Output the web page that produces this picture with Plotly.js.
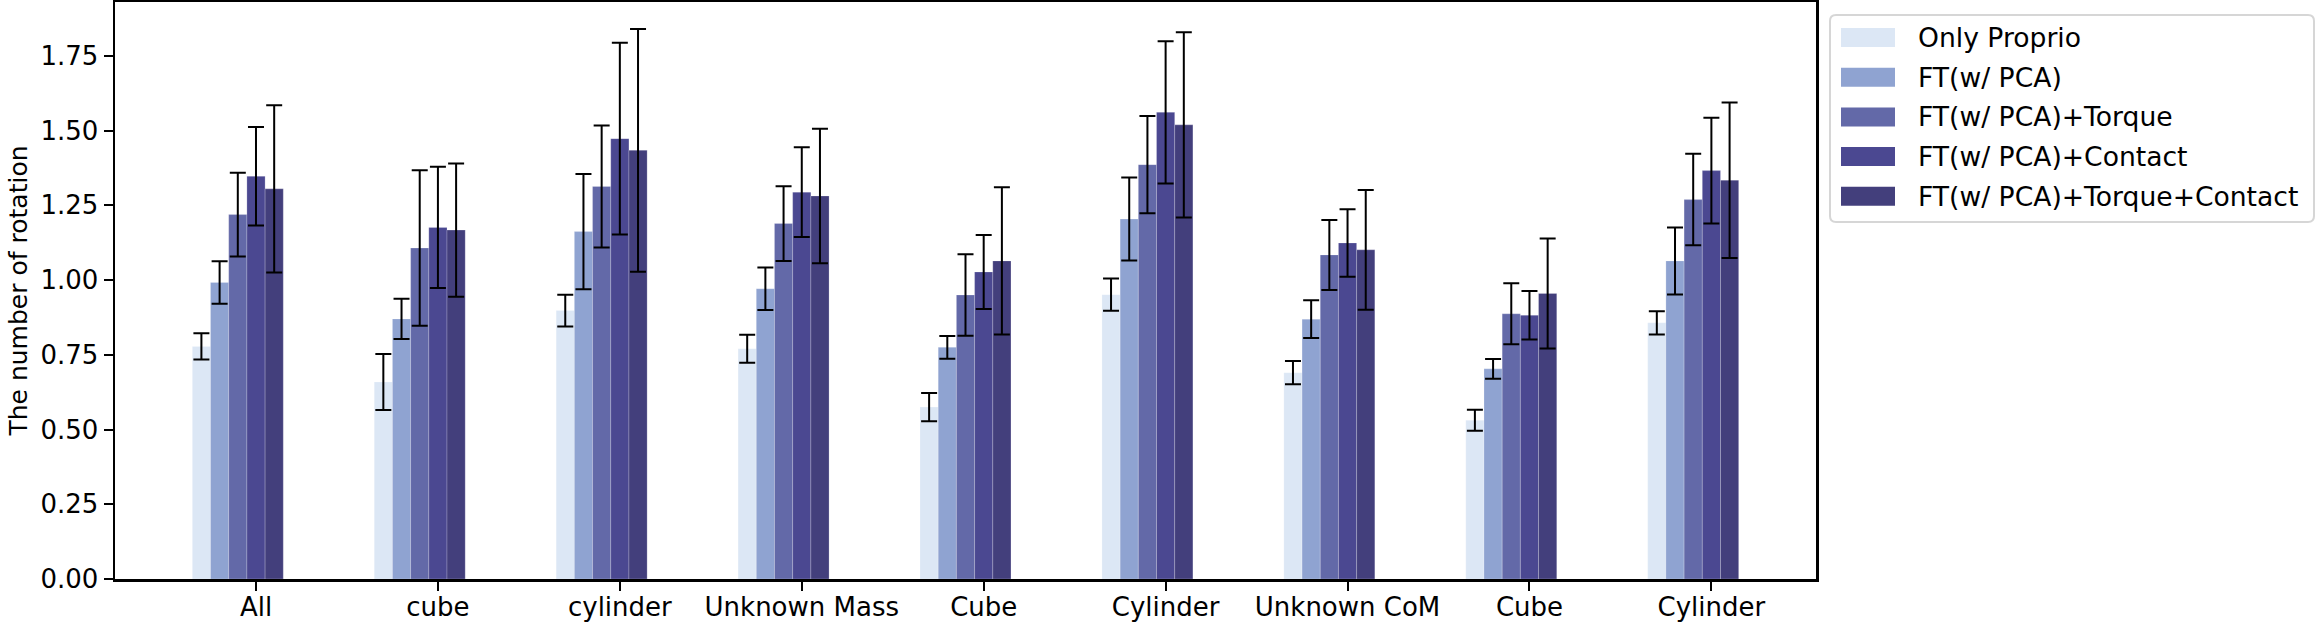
<!DOCTYPE html>
<html>
<head>
<meta charset="utf-8">
<script src="https://cdn.plot.ly/plotly-3.0.1.min.js"></script>
<style>
  html, body { margin: 0; padding: 0; background: #fff; }
  #chart { width: 2317px; height: 625px; }
</style>
</head>
<body>
<div id="chart"></div>
<script>
const categories = ["All", "cube", "cylinder", "Unknown Mass", "Cube", "Cylinder", "Unknown CoM", "Cube", "Cylinder"];
const seriesNames = ["Only Proprio", "FT(w/ PCA)", "FT(w/ PCA)+Torque", "FT(w/ PCA)+Contact", "FT(w/ PCA)+Torque+Contact"];
const seriesColors = ["#dce7f5", "#8fa3d1", "#6369a8", "#4b4891", "#433f7c"];

// mean number of rotations per series
const onlyProprio   = [0.778, 0.659, 0.898, 0.770, 0.575, 0.951, 0.690, 0.531, 0.857];
const ftPca         = [0.992, 0.870, 1.162, 0.971, 0.775, 1.204, 0.869, 0.703, 1.064];
const ftTorque      = [1.219, 1.107, 1.313, 1.189, 0.950, 1.386, 1.084, 0.887, 1.269];
const ftContact     = [1.347, 1.176, 1.473, 1.294, 1.027, 1.561, 1.124, 0.882, 1.366];
const ftTorqueCont  = [1.305, 1.167, 1.434, 1.281, 1.064, 1.519, 1.101, 0.955, 1.334];

// error (half length)
const onlyProprioErr  = [0.044, 0.094, 0.053, 0.047, 0.047, 0.054, 0.039, 0.035, 0.039];
const ftPcaErr        = [0.071, 0.067, 0.193, 0.071, 0.038, 0.139, 0.063, 0.033, 0.112];
const ftTorqueErr     = [0.140, 0.260, 0.204, 0.125, 0.136, 0.163, 0.117, 0.102, 0.153];
const ftContactErr    = [0.165, 0.203, 0.321, 0.150, 0.124, 0.238, 0.113, 0.081, 0.177];
const ftTorqueContErr = [0.280, 0.223, 0.406, 0.225, 0.246, 0.310, 0.200, 0.184, 0.260];

const means = [onlyProprio, ftPca, ftTorque, ftContact, ftTorqueCont];
const errs = [onlyProprioErr, ftPcaErr, ftTorqueErr, ftContactErr, ftTorqueContErr];

const barWidth = 0.1;
const idx = categories.map((c, i) => i);

const traces = seriesNames.map((name, k) => ({
  type: "bar",
  name: name,
  x: idx.map(i => i + (k - 3) * barWidth),
  y: means[k],
  width: barWidth,
  marker: { color: seriesColors[k], line: { width: 0.6, color: "rgba(255,255,255,0.35)" } },
  error_y: { type: "data", array: errs[k], visible: true, color: "#000", thickness: 2, width: 8 },
  showlegend: false,
  hoverinfo: "name+y"
}));

// plot frame in pixels
const W = 2317, Hh = 625;
const L = 115, R = 1816, T = 2, B = 579;
const px = x => (x - L) / (R - L);
const py = y => (B - y) / (B - T);

// legend drawn by hand so the swatches look like matplotlib's
const shapes = [];
const annotations = [];
const lx0 = 1830, lx1 = 2314, ly0 = 15, ly1 = 222, rad = 6;
shapes.push({
  type: "path", xref: "paper", yref: "paper",
  path: `M ${px(lx0 + rad)},${py(ly0)} L ${px(lx1 - rad)},${py(ly0)} Q ${px(lx1)},${py(ly0)} ${px(lx1)},${py(ly0 + rad)}` +
        ` L ${px(lx1)},${py(ly1 - rad)} Q ${px(lx1)},${py(ly1)} ${px(lx1 - rad)},${py(ly1)}` +
        ` L ${px(lx0 + rad)},${py(ly1)} Q ${px(lx0)},${py(ly1)} ${px(lx0)},${py(ly1 - rad)}` +
        ` L ${px(lx0)},${py(ly0 + rad)} Q ${px(lx0)},${py(ly0)} ${px(lx0 + rad)},${py(ly0)} Z`,
  line: { color: "#d6d6d6", width: 2 },
  fillcolor: "rgba(255,255,255,0.8)"
});
seriesNames.forEach((name, k) => {
  const cy = 37.5 + k * 39.7;
  shapes.push({
    type: "rect", xref: "paper", yref: "paper",
    x0: px(1841), x1: px(1895), y0: py(cy - 9.5), y1: py(cy + 9.5),
    line: { width: 0 }, fillcolor: seriesColors[k]
  });
  annotations.push({
    xref: "paper", yref: "paper", x: px(1916), y: py(cy),
    xanchor: "left", yanchor: "middle", showarrow: false,
    text: name, font: { family: "DejaVu Sans", size: 26.6, color: "#000" }
  });
});

const layout = {
  width: W, height: Hh,
  margin: { l: L, r: W - R, t: T, b: Hh - B },
  paper_bgcolor: "#fff", plot_bgcolor: "#fff",
  font: { family: "DejaVu Sans", size: 26, color: "#000" },
  barmode: "overlay",
  showlegend: false,
  xaxis: {
    range: [-0.775, 8.575],
    tickmode: "array", tickvals: idx, ticktext: categories,
    ticks: "outside", ticklen: 9, tickwidth: 2, tickcolor: "#000",
    ticklabelstandoff: -6,
    showline: true, linecolor: "#000", linewidth: 2.5, mirror: true,
    showgrid: false, zeroline: false,
    tickfont: { family: "DejaVu Sans", size: 26 }
  },
  yaxis: {
    range: [0, 1.93],
    tickmode: "linear", tick0: 0, dtick: 0.25, tickformat: ".2f",
    ticks: "outside", ticklen: 9, tickwidth: 2, tickcolor: "#000",
    showline: true, linecolor: "#000", linewidth: 2.5, mirror: true,
    showgrid: false, zeroline: false,
    tickfont: { family: "DejaVu Sans", size: 26 },
    title: { text: "The number of rotation", font: { family: "DejaVu Sans", size: 25 }, standoff: 6 }
  },
  shapes: shapes,
  annotations: annotations
};

Plotly.newPlot("chart", traces, layout, { displayModeBar: false, staticPlot: true });
</script>
</body>
</html>
